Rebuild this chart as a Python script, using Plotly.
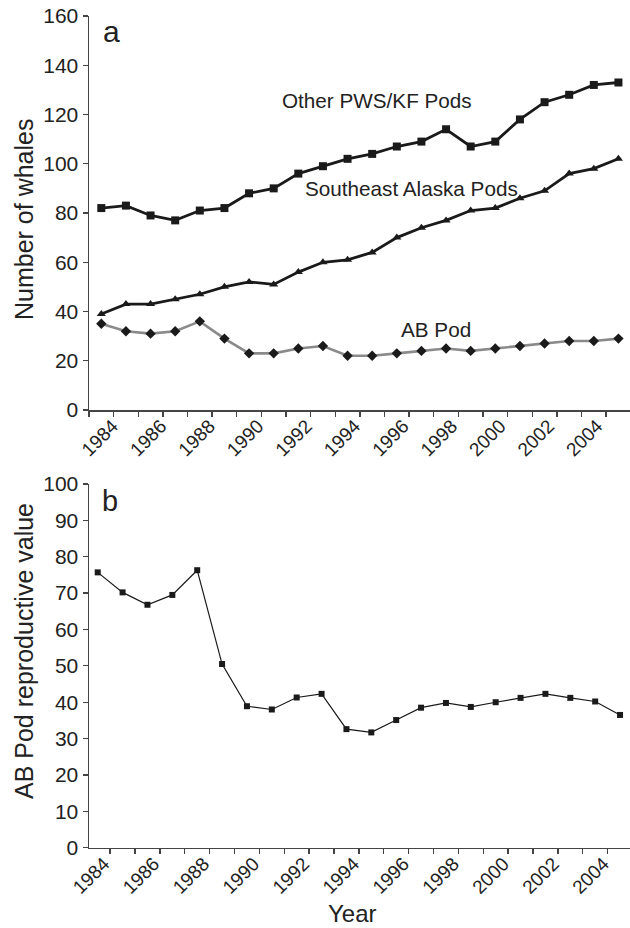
import plotly.graph_objects as go

years = list(range(1984, 2006))
other_pws_kf = [82, 83, 79, 77, 81, 82, 88, 90, 96, 99, 102, 104, 107, 109, 114, 107, 109, 118, 125, 128, 132, 133]
southeast_alaska = [39, 43, 43, 45, 47, 50, 52, 51, 56, 60, 61, 64, 70, 74, 77, 81, 82, 86, 89, 96, 98, 102]
ab_pod = [35, 32, 31, 32, 36, 29, 23, 23, 25, 26, 22, 22, 23, 24, 25, 24, 25, 26, 27, 28, 28, 29]
ab_repro = [75.7, 70.2, 66.8, 69.5, 76.3, 50.5, 38.9, 38.0, 41.3, 42.3, 32.6, 31.7, 35.1, 38.5,
            39.8, 38.7, 40.0, 41.2, 42.3, 41.2, 40.2, 36.5]
label_years = list(range(1984, 2005, 2))
yticks_a = list(range(0, 161, 20))
yticks_b = list(range(0, 101, 10))

FONT = "Liberation Sans, Arial, Helvetica, sans-serif"
TXT = "#222222"
AX = "#444444"
BLACK = "#1a1a1a"
GRAY = "#8a8a8a"

W, H = 630, 928

def px(X):
    return X / W

def py(Y):
    return 1 - Y / H

fig = go.Figure()

fig.add_trace(go.Scatter(x=years, y=other_pws_kf, mode="lines+markers",
                         line=dict(color=BLACK, width=2.8),
                         marker=dict(symbol="square", size=8, color=BLACK),
                         xaxis="x", yaxis="y", showlegend=False, hoverinfo="skip"))
fig.add_trace(go.Scatter(x=years, y=southeast_alaska, mode="lines+markers",
                         line=dict(color=BLACK, width=2.8),
                         marker=dict(symbol="triangle-up", size=8, color=BLACK),
                         xaxis="x", yaxis="y", showlegend=False, hoverinfo="skip"))
fig.add_trace(go.Scatter(x=years, y=ab_pod, mode="lines+markers",
                         line=dict(color=GRAY, width=2.6),
                         marker=dict(symbol="diamond", size=8, color=BLACK),
                         xaxis="x", yaxis="y", showlegend=False, hoverinfo="skip"))
fig.add_trace(go.Scatter(x=years, y=ab_repro, mode="lines+markers",
                         line=dict(color=BLACK, width=1.2),
                         marker=dict(symbol="square", size=6, color=BLACK),
                         xaxis="x2", yaxis="y2", showlegend=False, hoverinfo="skip"))

common_x = dict(showgrid=False, zeroline=False, showline=True, linecolor=AX, linewidth=1.5,
                ticks="outside", ticklen=0, tickangle=-45, tickcolor=AX, automargin=False,
                ticklabeloverflow="allow", ticklabelstandoff=-4,
                tickfont=dict(family=FONT, size=19, color=TXT), fixedrange=True)
common_y = dict(showgrid=False, zeroline=False, showline=True, linecolor=AX, linewidth=1.5,
                ticks="outside", ticklen=5, tickwidth=1.3, tickcolor=AX, automargin=False,
                ticklabeloverflow="allow",
                tickfont=dict(family=FONT, size=21, color=TXT), fixedrange=True)

# label anchor positions (label text end), as in the original's slightly drifting placement
top_label_pos = [y + 0.46 - 0.01625 * (y - 1984) for y in label_years]
bot_label_pos = [y + 0.25 + 0.004 * (y - 1984) for y in label_years]

fig.update_layout(
    width=W, height=H, margin=dict(l=0, r=0, t=0, b=0),
    paper_bgcolor="white", plot_bgcolor="white", hovermode=False,
    xaxis=dict(common_x, domain=[px(89), 1], range=[1983.5, 2005.47], anchor="y",
               tickvals=top_label_pos, ticktext=[str(y) for y in label_years],
               minor=dict(tickvals=[y - 0.5 for y in years] + [2005.5], ticks="outside",
                          ticklen=5, tickwidth=1.3, tickcolor=AX)),
    yaxis=dict(common_y, domain=[py(410), py(16)], range=[0, 160], anchor="x",
               tickvals=yticks_a),
    xaxis2=dict(common_x, domain=[px(89), 1], range=[1983.65, 2005.4], anchor="y2",
                tickvals=bot_label_pos, ticktext=[str(y) for y in label_years],
                minor=dict(tickvals=[y - 0.5 for y in years] + [2005.5], ticks="outside",
                           ticklen=5, tickwidth=1.3, tickcolor=AX)),
    yaxis2=dict(common_y, domain=[py(847.7), py(484)], range=[0, 100], anchor="x2",
                tickvals=yticks_b),
)

def ann(text, x, y, size, xanchor="center", yanchor="middle", angle=0):
    fig.add_annotation(text=text, x=px(x), y=py(y), xref="paper", yref="paper",
                       showarrow=False, xanchor=xanchor, yanchor=yanchor, textangle=angle,
                       font=dict(family=FONT, size=size, color=TXT))

ann("a", 101, 32, 30, xanchor="left")
ann("b", 100, 501, 29, xanchor="left")
ann("Other PWS/KF Pods", 376.7, 100.7, 20.7)
ann("Southeast Alaska Pods", 411.7, 188, 20.7)
ann("AB Pod", 435.8, 329.5, 20.7)
ann("Number of whales", 24, 220, 25, angle=-90)
ann("AB Pod reproductive value", 23.5, 651.5, 25, angle=-90)
ann("Year", 352, 913, 24)

fig.write_html("out.html", config={"displayModeBar": False, "staticPlot": True},
               post_script="document.body.style.margin='0px';")
